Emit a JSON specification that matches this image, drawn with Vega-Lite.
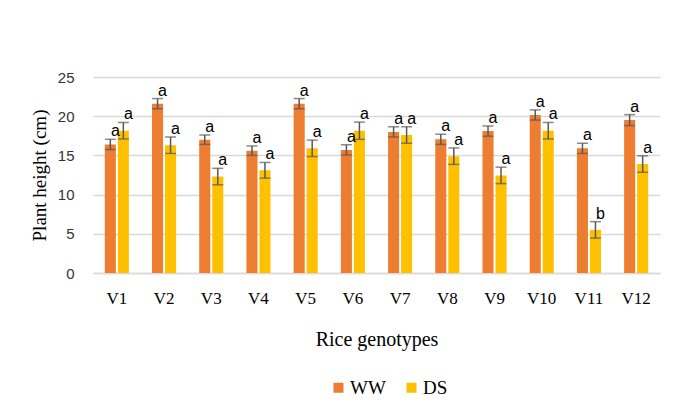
{
  "$schema": "https://vega.github.io/schema/vega-lite/v6.json",
  "width": 567,
  "height": 196,
  "autosize": "none",
  "padding": {"left": 93, "top": 77, "right": 15, "bottom": 134},
  "background": "white",
  "data": {
    "values": [
      {"g": "V1", "t": "WW", "v": 16.4, "e": 0.65, "l": "a"},
      {"g": "V1", "t": "DS", "v": 18.15, "e": 1.05, "l": "a"},
      {"g": "V2", "t": "WW", "v": 21.6, "e": 0.65, "l": "a"},
      {"g": "V2", "t": "DS", "v": 16.3, "e": 1.05, "l": "a"},
      {"g": "V3", "t": "WW", "v": 17.0, "e": 0.6, "l": "a"},
      {"g": "V3", "t": "DS", "v": 12.3, "e": 1.05, "l": "a"},
      {"g": "V4", "t": "WW", "v": 15.6, "e": 0.6, "l": "a"},
      {"g": "V4", "t": "DS", "v": 13.1, "e": 1.0, "l": "a"},
      {"g": "V5", "t": "WW", "v": 21.6, "e": 0.65, "l": "a"},
      {"g": "V5", "t": "DS", "v": 15.9, "e": 1.05, "l": "a"},
      {"g": "V6", "t": "WW", "v": 15.7, "e": 0.65, "l": "a"},
      {"g": "V6", "t": "DS", "v": 18.15, "e": 1.1, "l": "a"},
      {"g": "V7", "t": "WW", "v": 18.0, "e": 0.65, "l": "a"},
      {"g": "V7", "t": "DS", "v": 17.6, "e": 1.05, "l": "a"},
      {"g": "V8", "t": "WW", "v": 17.05, "e": 0.65, "l": "a"},
      {"g": "V8", "t": "DS", "v": 14.9, "e": 1.05, "l": "a"},
      {"g": "V9", "t": "WW", "v": 18.1, "e": 0.65, "l": "a"},
      {"g": "V9", "t": "DS", "v": 12.45, "e": 1.05, "l": "a"},
      {"g": "V10", "t": "WW", "v": 20.15, "e": 0.65, "l": "a"},
      {"g": "V10", "t": "DS", "v": 18.15, "e": 1.05, "l": "a"},
      {"g": "V11", "t": "WW", "v": 15.9, "e": 0.65, "l": "a"},
      {"g": "V11", "t": "DS", "v": 5.5, "e": 1.05, "l": "b"},
      {"g": "V12", "t": "WW", "v": 19.5, "e": 0.7, "l": "a"},
      {"g": "V12", "t": "DS", "v": 13.9, "e": 1.05, "l": "a"}
    ]
  },
  "transform": [
    {"calculate": "datum.v + datum.e", "as": "hi"},
    {"calculate": "datum.v - datum.e", "as": "lo"}
  ],
  "encoding": {
    "x": {
      "field": "g", "type": "nominal", "sort": null,
      "scale": {"paddingInner": 0.49, "paddingOuter": 0.25},
      "axis": {
        "title": "Rice genotypes", "labelAngle": 0, "ticks": false,
        "labelFont": "Liberation Serif", "labelFontSize": 17, "labelColor": "#000000",
        "labelPadding": 17, "titleFont": "Liberation Serif", "titleFontSize": 20,
        "titleFontWeight": "normal", "titleColor": "#000000", "titlePadding": 23,
        "domainColor": "#D9D9D9", "domainWidth": 1.3
      }
    },
    "xOffset": {"field": "t", "type": "nominal", "sort": ["WW", "DS"], "scale": {"paddingInner": 0.15}}
  },
  "layer": [
    {
      "mark": {"type": "bar"},
      "encoding": {
        "y": {
          "field": "v", "type": "quantitative",
          "scale": {"domain": [0, 25], "nice": false, "zero": true},
          "axis": {
            "title": "Plant height (cm)", "values": [0, 5, 10, 15, 20, 25],
            "labelOverlap": false, "grid": true,
            "ticks": false, "domain": false, "gridColor": "#D9D9D9", "gridWidth": 1.3,
            "labelFont": "Liberation Sans", "labelFontSize": 15, "labelColor": "#333333",
            "labelPadding": 19, "titleFont": "Liberation Serif", "titleFontSize": 19,
            "titleFontWeight": "normal", "titleColor": "#000000", "titlePadding": 8
          }
        },
        "color": {
          "field": "t", "type": "nominal",
          "scale": {"domain": ["WW", "DS"], "range": ["#ED7D31", "#FFC000"]},
          "legend": {
            "title": null, "orient": "none", "legendX": 236, "legendY": 301,
            "direction": "horizontal",
            "symbolType": "square", "symbolSize": 100, "symbolStrokeWidth": 0,
            "labelFont": "Liberation Serif", "labelFontSize": 19, "labelColor": "#000000",
            "columnPadding": 16, "labelOffset": 2
          }
        }
      }
    },
    {
      "mark": {"type": "rule", "color": "#595959", "strokeWidth": 1.5},
      "encoding": {
        "y": {
          "field": "lo", "type": "quantitative",
          "scale": {"domain": [0, 25], "nice": false, "zero": true},
          "axis": {
            "title": "Plant height (cm)", "values": [0, 5, 10, 15, 20, 25],
            "labelOverlap": false, "grid": true,
            "ticks": false, "domain": false, "gridColor": "#D9D9D9", "gridWidth": 1.3,
            "labelFont": "Liberation Sans", "labelFontSize": 15, "labelColor": "#333333",
            "labelPadding": 19, "titleFont": "Liberation Serif", "titleFontSize": 19,
            "titleFontWeight": "normal", "titleColor": "#000000", "titlePadding": 8
          }
        },
        "y2": {"field": "hi"}
      }
    },
    {
      "mark": {"type": "tick", "color": "#595959", "thickness": 1.5, "size": 11, "orient": "horizontal"},
      "encoding": {
        "y": {
          "field": "hi", "type": "quantitative",
          "scale": {"domain": [0, 25], "nice": false, "zero": true},
          "axis": {
            "title": "Plant height (cm)", "values": [0, 5, 10, 15, 20, 25],
            "labelOverlap": false, "grid": true,
            "ticks": false, "domain": false, "gridColor": "#D9D9D9", "gridWidth": 1.3,
            "labelFont": "Liberation Sans", "labelFontSize": 15, "labelColor": "#333333",
            "labelPadding": 19, "titleFont": "Liberation Serif", "titleFontSize": 19,
            "titleFontWeight": "normal", "titleColor": "#000000", "titlePadding": 8
          }
        }
      }
    },
    {
      "mark": {"type": "tick", "color": "#595959", "thickness": 1.5, "size": 11, "orient": "horizontal"},
      "encoding": {
        "y": {
          "field": "lo", "type": "quantitative",
          "scale": {"domain": [0, 25], "nice": false, "zero": true},
          "axis": {
            "title": "Plant height (cm)", "values": [0, 5, 10, 15, 20, 25],
            "labelOverlap": false, "grid": true,
            "ticks": false, "domain": false, "gridColor": "#D9D9D9", "gridWidth": 1.3,
            "labelFont": "Liberation Sans", "labelFontSize": 15, "labelColor": "#333333",
            "labelPadding": 19, "titleFont": "Liberation Serif", "titleFontSize": 19,
            "titleFontWeight": "normal", "titleColor": "#000000", "titlePadding": 8
          }
        }
      }
    },
    {
      "mark": {"type": "text", "font": "Liberation Sans", "fontSize": 16, "color": "#000000", "baseline": "bottom", "align": "center", "dx": 5, "dy": 0},
      "encoding": {
        "y": {
          "field": "hi", "type": "quantitative",
          "scale": {"domain": [0, 25], "nice": false, "zero": true},
          "axis": {
            "title": "Plant height (cm)", "values": [0, 5, 10, 15, 20, 25],
            "labelOverlap": false, "grid": true,
            "ticks": false, "domain": false, "gridColor": "#D9D9D9", "gridWidth": 1.3,
            "labelFont": "Liberation Sans", "labelFontSize": 15, "labelColor": "#333333",
            "labelPadding": 19, "titleFont": "Liberation Serif", "titleFontSize": 19,
            "titleFontWeight": "normal", "titleColor": "#000000", "titlePadding": 8
          }
        },
        "text": {"field": "l"}
      }
    }
  ],
  "config": {"view": {"stroke": null}}
}
